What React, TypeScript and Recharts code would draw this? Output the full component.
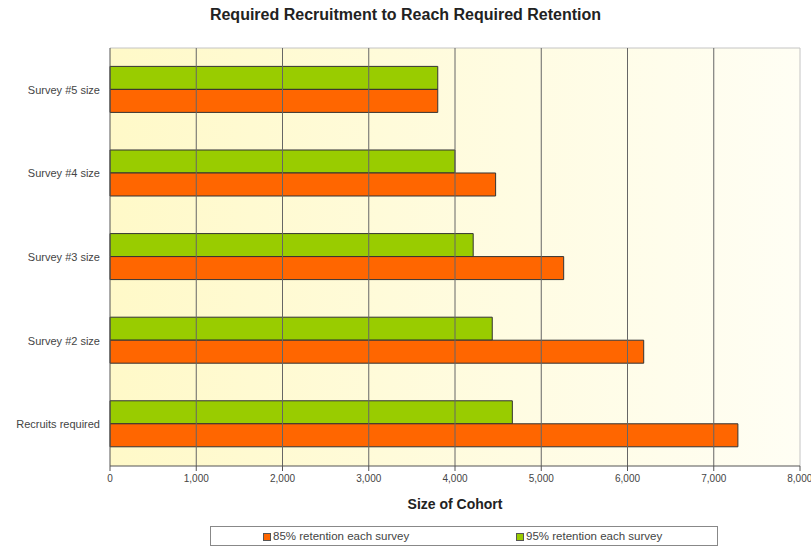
import { BarChart, Bar, XAxis, YAxis, CartesianGrid, ReferenceLine } from 'recharts';

// categories listed top to bottom as in the picture
const categories = ['Survey #5 size', 'Survey #4 size', 'Survey #3 size', 'Survey #2 size', 'Recruits required'];
const retention85 = [3800, 4471, 5260, 6188, 7280];
const retention95 = [3800, 4000, 4211, 4432, 4665];
const xTicks = [0, 1000, 2000, 3000, 4000, 5000, 6000, 7000, 8000];

const data = categories.map((name, i) => ({
    name,
    r85: retention85[i],
    r95: retention95[i],
}));

const ORANGE = '#ff6600';
const GREEN = '#99cc00';
const font = '"Liberation Sans", Arial, sans-serif';

function Swatch({ color }: { color: string }) {
    return (
        <span
            style={{
                display: 'inline-block',
                width: 6,
                height: 6,
                background: color,
                border: '1px solid #555',
                marginRight: 2,
                verticalAlign: 'middle',
            }}
        />
    );
}

// single-line category labels (the default tick wraps long names)
function CategoryTick({ x, y, payload }: any) {
    return (
        <text x={x} y={y} dy={4} textAnchor="end" fill="#444" fontSize={11} fontFamily={font}>
            {payload.value}
        </text>
    );
}

export default function App() {
    return (
        <div style={{ position: 'absolute', left: 0, top: 0, width: 811, height: 548, background: '#fff', fontFamily: font }}>
            <div
                style={{
                    position: 'absolute',
                    top: 6,
                    left: 0,
                    width: 811,
                    textAlign: 'center',
                    fontSize: 16,
                    fontWeight: 'bold',
                    color: '#222',
                }}
            >
                Required Recruitment to Reach Required Retention
            </div>
            <BarChart
                width={811}
                height={548}
                data={data}
                layout="vertical"
                margin={{ top: 48, right: 11, left: 0, bottom: 0 }}
                barCategoryGap="22%"
                barGap={0}
            >
                <defs>
                    <linearGradient id="plotBg" x1="0" y1="0" x2="1" y2="0">
                        <stop offset="0%" stopColor="#fff9c8" />
                        <stop offset="100%" stopColor="#fffef4" />
                    </linearGradient>
                </defs>
                <CartesianGrid
                    fill="url(#plotBg)"
                    stroke="#c4c4c4"
                    horizontalPoints={[48]}
                    verticalPoints={[800]}
                />
                {xTicks.slice(1, -1).map((t) => (
                    <ReferenceLine key={t} x={t} stroke="#666" strokeWidth={1} />
                ))}
                <XAxis
                    type="number"
                    domain={[0, 8000]}
                    ticks={xTicks}
                    height={82}
                    stroke="#555"
                    tickSize={5}
                    tickMargin={4}
                    tick={{ fill: '#444', fontSize: 10, fontFamily: font }}
                    tickFormatter={(v: number) => v.toLocaleString('en-US')}
                    label={{
                        value: 'Size of Cohort',
                        position: 'insideTop',
                        offset: 33,
                        style: { fontSize: 14, fontWeight: 'bold', fill: '#222', fontFamily: font },
                    }}
                />
                <YAxis
                    type="category"
                    dataKey="name"
                    width={110}
                    stroke="#555"
                    tickLine={false}
                    tickMargin={4}
                    tick={<CategoryTick />}
                />
                <Bar dataKey="r95" fill={GREEN} stroke="#333" strokeWidth={1} isAnimationActive={false} />
                <Bar dataKey="r85" fill={ORANGE} stroke="#333" strokeWidth={1} isAnimationActive={false} />
            </BarChart>
            <div
                style={{
                    position: 'absolute',
                    left: 210,
                    top: 526,
                    width: 506,
                    height: 18,
                    border: '1px solid #888',
                    fontSize: 11.5,
                    color: '#444',
                    lineHeight: '18px',
                    whiteSpace: 'nowrap',
                }}
            >
                <span style={{ position: 'absolute', left: 52 }}>
                    <Swatch color={ORANGE} />
                    85% retention each survey
                </span>
                <span style={{ position: 'absolute', left: 305 }}>
                    <Swatch color={GREEN} />
                    95% retention each survey
                </span>
            </div>
        </div>
    );
}
